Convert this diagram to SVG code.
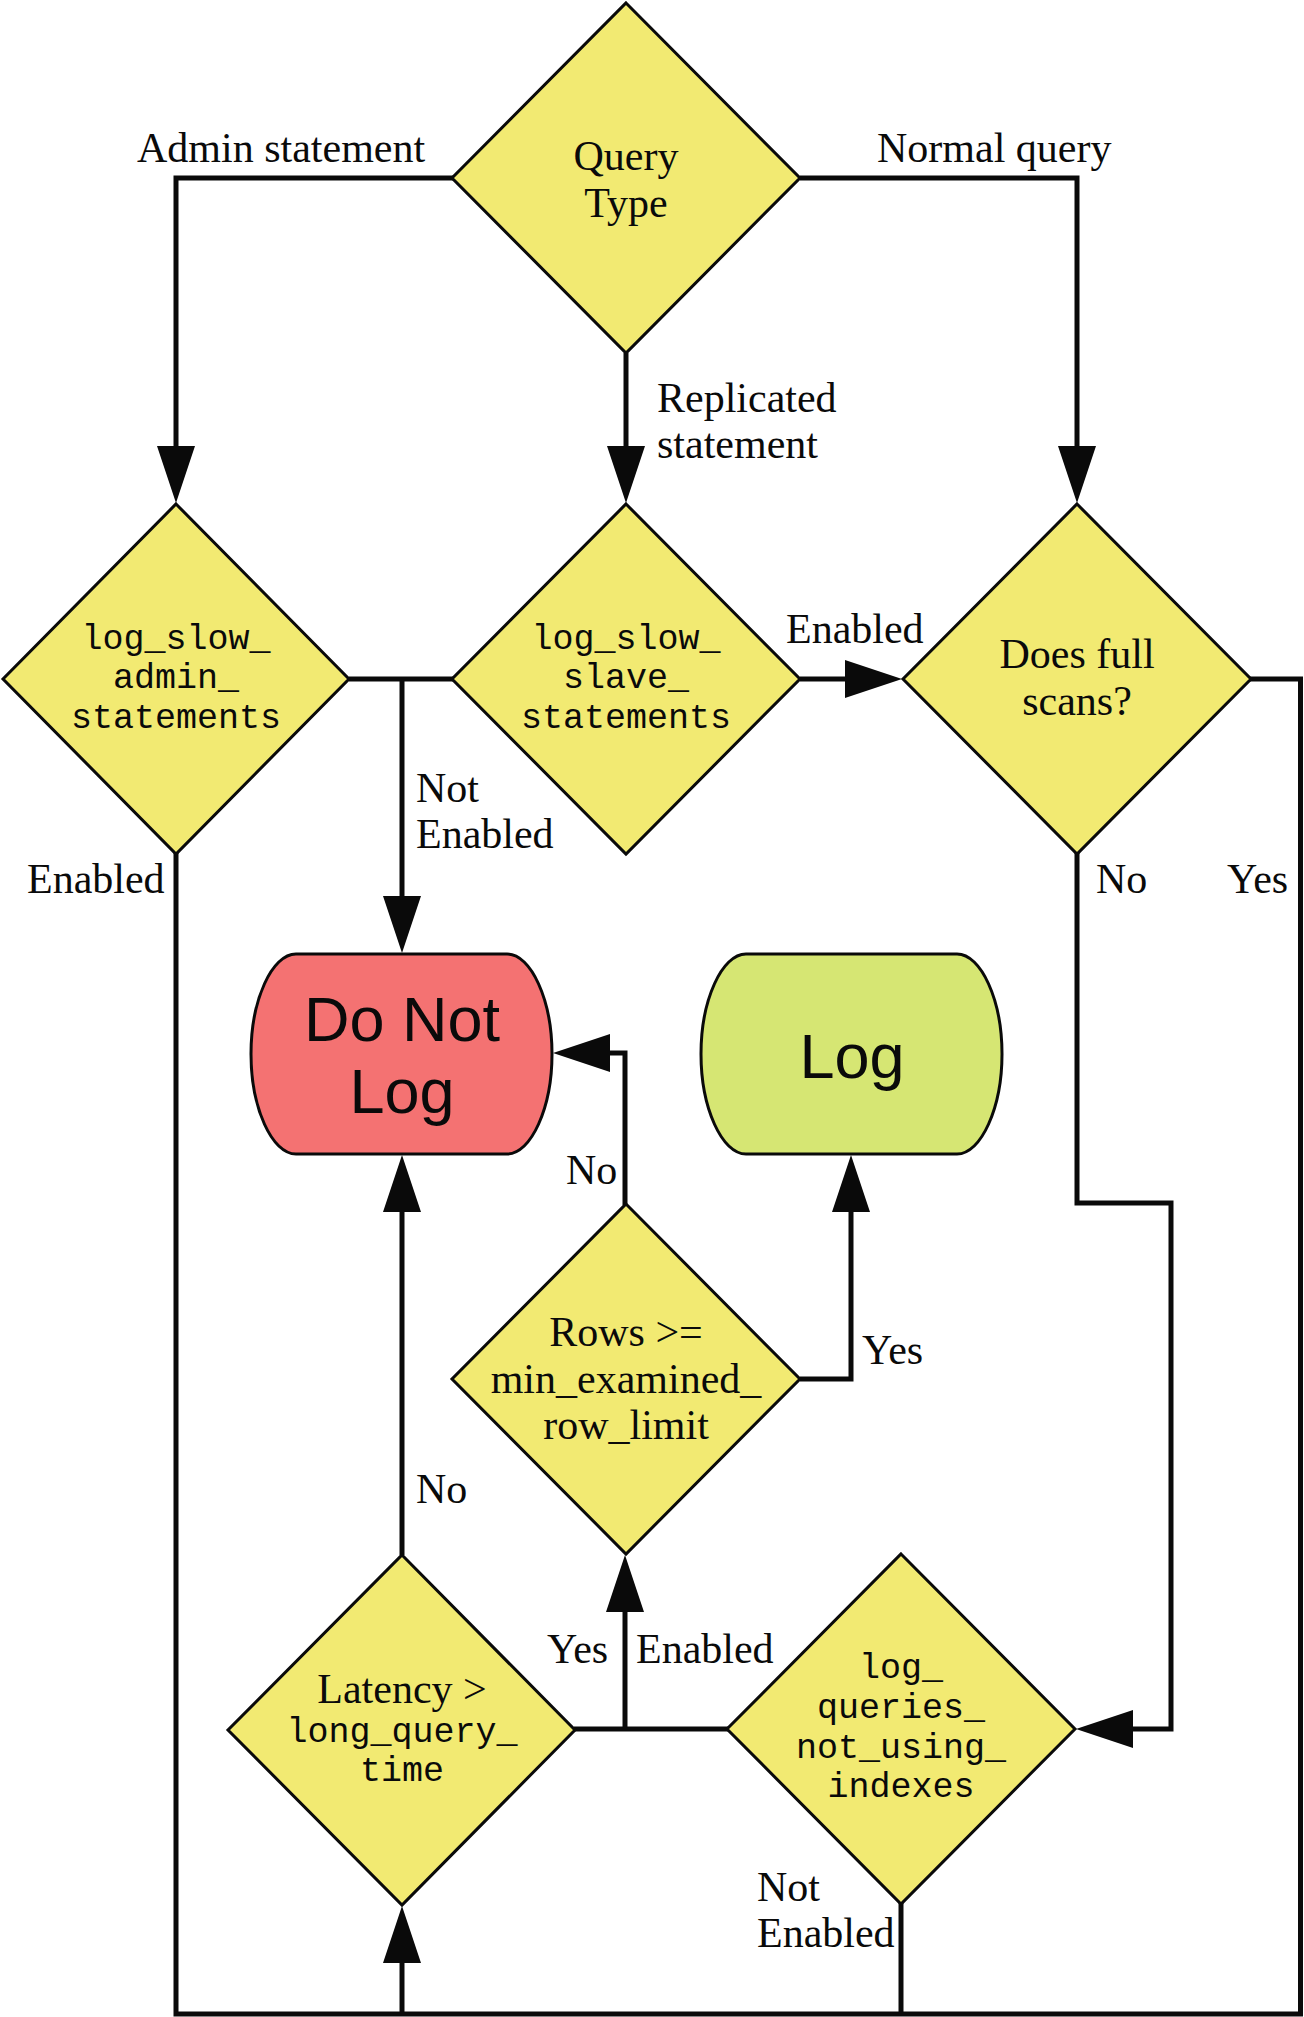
<svg xmlns="http://www.w3.org/2000/svg" width="1304" height="2017" viewBox="0 0 1304 2017">
<style>
.dia{fill:#f2ea72;stroke:#0a0a0a;stroke-width:3;stroke-linejoin:miter}
.red{fill:#f47272;stroke:#0a0a0a;stroke-width:3}
.grn{fill:#d6e673;stroke:#0a0a0a;stroke-width:3}
.ser{font-family:"Liberation Serif","Times New Roman",serif;font-size:42px;fill:#0a0a0a}
.mono{font-family:"Liberation Mono","Courier New",monospace;font-size:35px;fill:#0a0a0a;text-anchor:middle}
.sans{font-family:"Liberation Sans",Arial,sans-serif;font-size:63px;fill:#0a0a0a;text-anchor:middle}
.mid{text-anchor:middle}
.ln{fill:none;stroke:#0a0a0a;stroke-width:5;stroke-linejoin:miter;stroke-linecap:butt}
.arr{marker-end:url(#ah)}
</style>
<defs>
<marker id="ah" markerUnits="userSpaceOnUse" markerWidth="57" markerHeight="38" refX="0" refY="19" orient="auto" overflow="visible">
<path d="M0,0 L57,19 L0,38 Z" fill="#0a0a0a"/>
</marker>
</defs>
<rect width="1304" height="2017" fill="#ffffff"/>

<g id="connectors">
<path class="ln arr" d="M453,178 H176 V446"/>
<path class="ln arr" d="M626,353 V446"/>
<path class="ln arr" d="M800,178 H1077 V446"/>
<path class="ln" d="M349,679 H453"/>
<path class="ln arr" d="M402,679 V896"/>
<path class="ln arr" d="M800,679 H845"/>
<path class="ln" d="M1250,679 H1300.5 V2014 H176 V853"/>
<path class="ln arr" d="M402,2014 V1963"/>
<path class="ln" d="M901,1903 V2014"/>
<path class="ln arr" d="M1077,853 V1203 H1171 V1729 H1133"/>
<path class="ln" d="M574,1729 H728"/>
<path class="ln arr" d="M625,1729 V1612"/>
<path class="ln arr" d="M402,1555 V1212"/>
<path class="ln arr" d="M625,1205 V1053 H610"/>
<path class="ln arr" d="M800,1379 H851 V1212"/>
<text class="ser" x="137" y="162">Admin statement</text>
<text class="ser" x="877" y="162">Normal query</text>
<text class="ser" x="657" y="412">Replicated</text>
<text class="ser" x="657" y="458">statement</text>
<text class="ser" x="786" y="643">Enabled</text>
<text class="ser" x="416" y="802">Not</text>
<text class="ser" x="416" y="848">Enabled</text>
<text class="ser" x="27" y="893">Enabled</text>
<text class="ser" x="1096" y="893">No</text>
<text class="ser" x="1227" y="893">Yes</text>
<text class="ser" x="566" y="1184">No</text>
<text class="ser" x="862" y="1364">Yes</text>
<text class="ser" x="416" y="1503">No</text>
<text class="ser" x="547" y="1663">Yes</text>
<text class="ser" x="636" y="1663">Enabled</text>
<text class="ser" x="757" y="1901">Not</text>
<text class="ser" x="757" y="1947">Enabled</text>
</g>

<g id="query_type">
<polygon class="dia" points="626,3 800,178 626,353 452,178"/>
<text class="ser mid" x="626" y="170">Query</text>
<text class="ser mid" x="626" y="217">Type</text>
</g>

<g id="log_slow_admin_statements">
<polygon class="dia" points="176,504 349,679 176,854 3,679"/>
<text class="mono" x="176" y="649">log_slow_</text>
<text class="mono" x="176" y="688">admin_</text>
<text class="mono" x="176" y="728">statements</text>
</g>

<g id="log_slow_slave_statements">
<polygon class="dia" points="626,504 800,679 626,854 452,679"/>
<text class="mono" x="626" y="649">log_slow_</text>
<text class="mono" x="626" y="688">slave_</text>
<text class="mono" x="626" y="728">statements</text>
</g>

<g id="does_full_scans">
<polygon class="dia" points="1077,504 1251,679 1077,854 903,679"/>
<text class="ser mid" x="1077" y="668">Does full</text>
<text class="ser mid" x="1077" y="715">scans?</text>
</g>

<g id="do_not_log">
<path class="red" d="M296,954 H507 C531,954 552,1000 552,1054 C552,1108 531,1154 507,1154 H296 C272,1154 251,1108 251,1054 C251,1000 272,954 296,954 Z"/>
<text class="sans" x="402" y="1041">Do Not</text>
<text class="sans" x="402" y="1113">Log</text>
</g>

<g id="log">
<path class="grn" d="M746,954 H957 C981,954 1002,1000 1002,1054 C1002,1108 981,1154 957,1154 H746 C722,1154 701,1108 701,1054 C701,1000 722,954 746,954 Z"/>
<text class="sans" x="852" y="1078">Log</text>
</g>

<g id="rows_min_examined">
<polygon class="dia" points="626,1204 800,1379 626,1554 452,1379"/>
<text class="ser mid" x="626" y="1346">Rows &gt;=</text>
<text class="ser mid" x="626" y="1393">min_examined_</text>
<text class="ser mid" x="626" y="1439">row_limit</text>
</g>

<g id="latency">
<polygon class="dia" points="402,1555 575,1730 402,1905 228,1730"/>
<text class="ser mid" x="402" y="1703">Latency &gt;</text>
<text class="mono" x="402" y="1742">long_query_</text>
<text class="mono" x="402" y="1781">time</text>
</g>

<g id="log_queries_not_using_indexes">
<polygon class="dia" points="901,1554 1075,1729 901,1904 727,1729"/>
<text class="mono" x="901" y="1678">log_</text>
<text class="mono" x="901" y="1718">queries_</text>
<text class="mono" x="901" y="1758">not_using_</text>
<text class="mono" x="901" y="1797">indexes</text>
</g>
</svg>
